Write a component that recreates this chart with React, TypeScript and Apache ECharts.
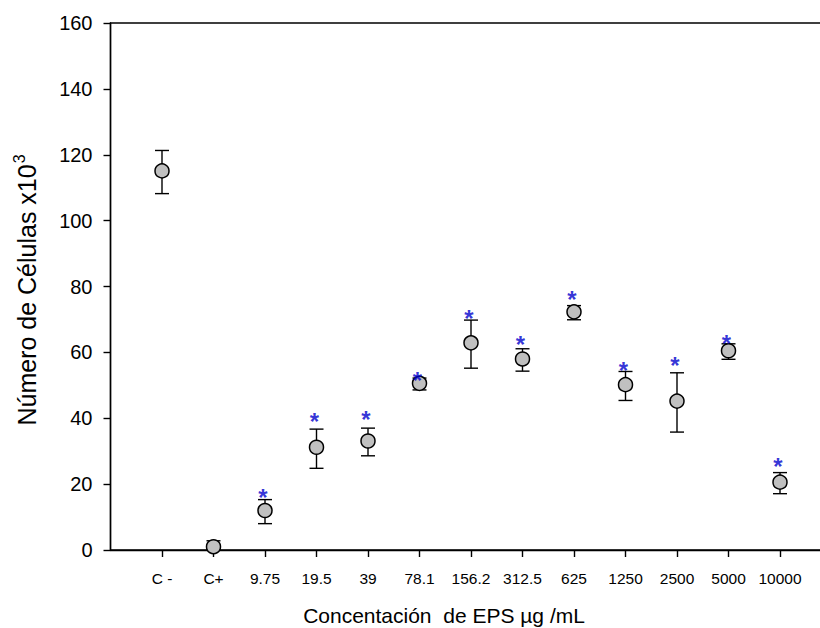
import React, { useEffect, useRef } from "react";
import * as echarts from "echarts";

const categories = ["C -", "C+", "9.75", "19.5", "39", "78.1", "156.2", "312.5", "625", "1250", "2500", "5000", "10000"];
const means = [115.1, 1.0, 12.0, 31.2, 33.1, 50.6, 62.9, 58.0, 72.3, 50.2, 45.2, 60.5, 20.6];
const upper = [121.3, 2.8, 15.3, 36.7, 37.0, 52.2, 69.8, 61.1, 74.2, 54.2, 53.8, 62.6, 23.5];
const lower = [108.2, 0, 8.0, 24.8, 28.6, 48.6, 55.2, 54.3, 69.9, 45.4, 35.8, 57.9, 17.1];
const starLevels: (number | null)[] = [null, null, 17.4, 40.4, 41.1, 52.9, 71.7, 63.9, 77.7, 55.9, 57.4, 64.1, 26.8];
const yTicks = { min: 0, max: 160, interval: 20 };

const FONT = "'Liberation Sans', Arial, sans-serif";

export default function App() {
  const ref = useRef<HTMLDivElement>(null);
  useEffect(() => {
    if (!ref.current) return;
    const chart = echarts.init(ref.current, undefined, { renderer: "svg" });
    const axisData = ["", ...categories, "", ""];
    const pointData = means.map((m, i) => [i + 1, m]);
    const errData = means.map((_, i) => [i + 1, lower[i], upper[i]]);
    const starData = starLevels
      .map((s, i) => (s === null ? null : [i + 1, s]))
      .filter((d) => d !== null);
    chart.setOption({
      animation: false,
      backgroundColor: "#ffffff",
      grid: {
        left: 110.5,
        width: 772.5,
        top: 23,
        bottom: 78,
        containLabel: false,
        outerBoundsMode: "none",
        show: true,
        borderColor: "#000",
        borderWidth: 1.4,
      },
      xAxis: {
        type: "category",
        data: axisData,
        boundaryGap: false,
        axisLine: { lineStyle: { color: "#000", width: 1.4 } },
        axisTick: {
          show: true,
          length: 7,
          interval: (_i: number, v: string) => v !== "",
          lineStyle: { color: "#000", width: 1.4 },
        },
        axisLabel: {
          interval: 0,
          margin: 20,
          fontSize: 15.5,
          fontFamily: FONT,
          color: "#000",
        },
        splitLine: { show: false },
      },
      yAxis: {
        type: "value",
        min: yTicks.min,
        max: yTicks.max,
        interval: yTicks.interval,
        axisLine: { show: true, lineStyle: { color: "#000", width: 1.4 } },
        axisTick: { show: true, length: 7, lineStyle: { color: "#000", width: 1.4 } },
        axisLabel: { margin: 18, fontSize: 20, fontFamily: FONT, color: "#000" },
        splitLine: { show: false },
      },
      graphic: [
        {
          type: "text",
          x: 444,
          y: 615,
          style: {
            text: "Concentación  de EPS µg /mL",
            fontSize: 21,
            fontFamily: FONT,
            fill: "#000",
            align: "center",
            verticalAlign: "middle",
          },
        },
        {
          type: "text",
          x: 27,
          y: 290,
          rotation: Math.PI / 2,
          style: {
            text: "{main|Número de Células x10}{sup|3}",
            fontFamily: FONT,
            fill: "#000",
            align: "center",
            verticalAlign: "middle",
            rich: {
              main: { fontSize: 25, fontFamily: FONT, fill: "#000" },
              sup: { fontSize: 16, fontFamily: FONT, fill: "#000", padding: [0, 0, 16, 1] },
            },
          },
        },
      ],
      series: [
        {
          type: "custom",
          z: 2,
          data: errData,
          encode: { x: 0, y: [1, 2] },
          renderItem: (_p: any, api: any) => {
            const x = api.value(0);
            const lo = api.coord([x, api.value(1)]);
            const hi = api.coord([x, api.value(2)]);
            const w = 7;
            const st = { stroke: "#000", lineWidth: 1.4 };
            return {
              type: "group",
              children: [
                { type: "line", shape: { x1: lo[0], y1: lo[1], x2: hi[0], y2: hi[1] }, style: st },
                { type: "line", shape: { x1: hi[0] - w, y1: hi[1], x2: hi[0] + w, y2: hi[1] }, style: st },
                { type: "line", shape: { x1: lo[0] - w, y1: lo[1], x2: lo[0] + w, y2: lo[1] }, style: st },
              ],
            };
          },
        },
        {
          type: "scatter",
          z: 3,
          data: pointData,
          symbol: "circle",
          symbolSize: 14,
          itemStyle: { color: "#c0c0c0", borderColor: "#000", borderWidth: 1.5, opacity: 1 },
        },
        {
          type: "scatter",
          z: 4,
          data: starData,
          symbol: "circle",
          symbolSize: 1,
          itemStyle: { color: "rgba(0,0,0,0)" },
          label: {
            show: true,
            position: "inside",
            formatter: "*",
            color: "#0000cc",
            fontSize: 24,
            fontWeight: "bold",
            fontFamily: FONT,
            offset: [-2, 5],
          },
        },
      ],
    });
    return () => chart.dispose();
  }, []);
  return (
    <div
      ref={ref}
      style={{ position: "fixed", left: 0, top: 0, width: 820, height: 628, background: "#fff" }}
    />
  );
}
